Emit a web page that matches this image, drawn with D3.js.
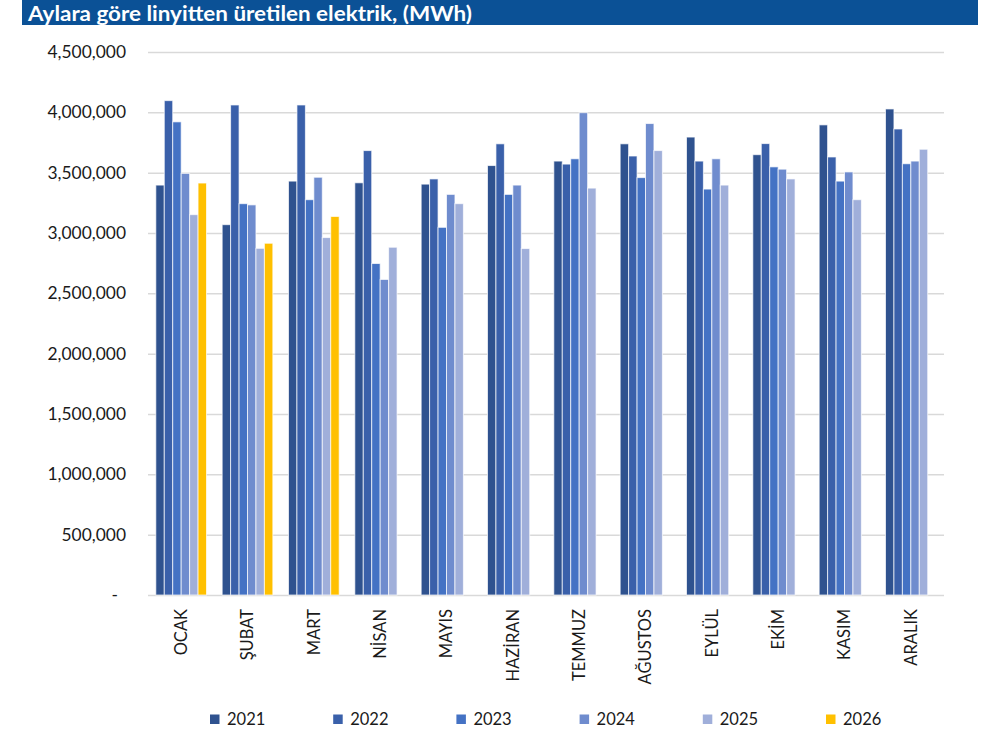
<!DOCTYPE html>
<html>
<head>
<meta charset="utf-8">
<script src="https://cdn.jsdelivr.net/npm/d3@7"></script>
<style>
  body { margin: 0; background: #fff; }
  svg { display: block; font-family: Lato, "Open Sans", sans-serif; }
</style>
</head>
<body>
<svg id="chart" width="1002" height="744"></svg>
<script>
const title = "Aylara göre linyitten üretilen elektrik, (MWh)";
const months = ["OCAK", "ŞUBAT", "MART", "NİSAN", "MAYIS", "HAZİRAN", "TEMMUZ", "AĞUSTOS", "EYLÜL", "EKİM", "KASIM", "ARALIK"];
const years = ["2021", "2022", "2023", "2024", "2025", "2026"];
const v2021 = [3397000, 3069000, 3430000, 3416000, 3405000, 3559000, 3596000, 3739000, 3795000, 3649000, 3896000, 4028000];
const v2022 = [4097000, 4061000, 4061000, 3683000, 3448000, 3739000, 3571000, 3638000, 3596000, 3741000, 3630000, 3862000];
const v2023 = [3921000, 3243000, 3276000, 2747000, 3047000, 3320000, 3615000, 3459000, 3364000, 3548000, 3430000, 3574000];
const v2024 = [3494000, 3233000, 3462000, 2615000, 3320000, 3397000, 3997000, 3907000, 3615000, 3529000, 3506000, 3596000];
const v2025 = [3152000, 2873000, 2962000, 2882000, 3243000, 2871000, 3372000, 3683000, 3397000, 3448000, 3276000, 3694000];
const v2026 = [3414000, 2915000, 3137000, null, null, null, null, null, null, null, null, null];
const yTicks = [0, 500000, 1000000, 1500000, 2000000, 2500000, 3000000, 3500000, 4000000, 4500000];
const colors = ["#2f528f", "#3a60aa", "#4472c4", "#6f8cce", "#a0afda", "#ffc000"];

const seriesValues = [v2021, v2022, v2023, v2024, v2025, v2026];
const svg = d3.select("#chart");

// Title banner
svg.append("rect").attr("x", 22).attr("y", 0).attr("width", 956).attr("height", 25).attr("fill", "#0b5196");
svg.append("text").attr("x", 28).attr("y", 20.5).attr("fill", "#fff")
  .attr("font-size", 20).attr("font-weight", "bold")
  .attr("textLength", 444).attr("lengthAdjust", "spacingAndGlyphs").text(title);

const x = d3.scaleBand().domain(months).range([148, 944]).paddingInner(0.236).paddingOuter(0.118);
const xi = d3.scaleBand().domain(years).range([0, x.bandwidth()]).padding(0);
const y = d3.scaleLinear().domain([0, 4500000]).range([595, 52]);

// Gridlines
const grid = svg.append("g").attr("transform", "translate(148,0)")
  .call(d3.axisLeft(y).tickValues(yTicks).tickSize(-796).tickFormat(""));
grid.select(".domain").remove();
grid.selectAll(".tick line").attr("stroke", "#d9d9d9").attr("stroke-width", 1.5);

// Y axis labels
const fmt = d3.format(",");
const yAxis = svg.append("g").attr("transform", "translate(126,0)")
  .call(d3.axisLeft(y).tickValues(yTicks).tickSize(0).tickPadding(0)
    .tickFormat(d => d === 0 ? "-" : fmt(d)));
yAxis.select(".domain").remove();
yAxis.selectAll("text").attr("font-family", "Lato, sans-serif").attr("font-size", 17.4).attr("fill", "#1a1a1a");
yAxis.selectAll(".tick").filter(d => d === 0).select("text").attr("x", -8);

// Bars
const data = [];
months.forEach((m, i) => years.forEach((yr, j) => {
  const v = seriesValues[j][i];
  if (v != null) data.push({ m, yr, v, c: colors[j] });
}));
svg.append("g").selectAll("rect").data(data).join("rect")
  .attr("x", d => x(d.m) + xi(d.yr))
  .attr("width", xi.bandwidth())
  .attr("y", d => y(d.v))
  .attr("height", d => y(0) - y(d.v))
  .attr("fill", d => d.c)
  .attr("stroke", "#ffffff").attr("stroke-opacity", 0.7).attr("stroke-width", 1);

// X axis labels
const xAxis = svg.append("g").attr("transform", "translate(0,595)")
  .call(d3.axisBottom(x).tickSize(0).tickPadding(0));
xAxis.select(".domain").remove();
xAxis.selectAll("text")
  .attr("font-family", "Lato, sans-serif").attr("font-size", 16.5).attr("fill", "#1a1a1a")
  .attr("transform", "rotate(-90)")
  .attr("text-anchor", "end")
  .attr("x", -14).attr("y", 0).attr("dy", "0.35em");

// Legend
const legend = svg.append("g");
years.forEach((yr, j) => {
  const lx = 210 + j * 123.2;
  legend.append("rect").attr("x", lx).attr("y", 714.5).attr("width", 9.5).attr("height", 9.5).attr("fill", colors[j]);
  legend.append("text").attr("x", lx + 17).attr("y", 719.5).attr("dy", "0.35em")
    .attr("font-size", 16.5).attr("fill", "#1a1a1a").text(yr);
});
</script>
</body>
</html>
